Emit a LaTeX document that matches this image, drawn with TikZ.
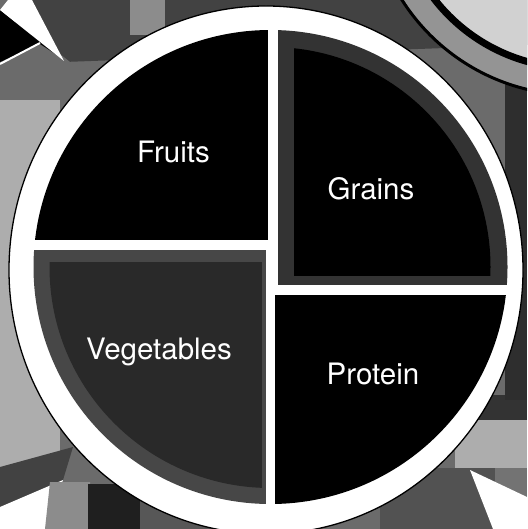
\documentclass[tikz,border=0pt]{standalone}
\usepackage{fontspec}
\setmainfont{TeX Gyre Heros}
\tikzset{
  label/.style={text=white, font=\fontsize{29.5}{30}\selectfont, inner sep=0pt, anchor=base},
  ring/.style={fill=white, draw=black, line width=1.3pt},
}
\colorlet{bgmid}{black!58}
\colorlet{bgdark}{black!74}
\colorlet{bglight}{black!32}
\begin{document}
\begin{tikzpicture}[x=1pt, y=-1pt]
\useasboundingbox (0,0) rectangle (527,529);
\clip (0,0) rectangle (527,529);
% ---- tablecloth background ----
\fill[bgmid] (0,0) rectangle (527,529);
\fill[bgdark] (30,0) -- (527,0) -- (527,45) -- (64,62) -- cycle;
\fill[black!45] (130,0) rectangle (165,35);
\fill[black!58] (0,62) -- (45,42) -- (80,70) -- (60,105) -- (0,105) -- cycle;
\fill[bglight] (0,100) rectangle (60,470);
\fill[black] (0,10) -- (60,57) -- (40,44) -- (0,62) -- cycle;
\draw[white, line width=2pt] (0,64) -- (40,43);
\fill[white] (0,10) -- (8,0) -- (32,0) -- (64,61) -- cycle;
% bottom left
\fill[bgdark] (0,467) -- (73,447) -- (63,480) -- (0,507) -- cycle;
\fill[white] (0,507) -- (63,480) -- (45,529) -- (0,529) -- cycle;
\fill[black!45] (50,482) -- (90,482) -- (90,529) -- (45,529) -- cycle;
\fill[black!88] (88,484) rectangle (140,529);
\fill[black!66] (140,495) rectangle (230,529);
% bottom right
\fill[black!80] (470,395) rectangle (527,422);
\fill[bglight] (455,420) rectangle (527,468);
\fill[black!68] (380,468) rectangle (527,529);
\fill[black!55] (495,468) rectangle (527,497);
\fill[white] (470,470) -- (493,529) -- (527,529) -- (527,497) -- cycle;
% right edge
\fill[black!82] (505,60) rectangle (527,400);
% top right: cup and saucer
\fill[black!42] (575,-110) circle (205pt);
\draw[black, line width=3pt] (575,-110) circle (205pt);
\fill[black!18] (575,-110) circle (175pt);
\draw[black, line width=7pt] (575,-110) circle (178pt);
% ---- plate ----
\path[ring] (266,270) ellipse [x radius=257pt, y radius=264pt];
\begin{scope}
  \clip (270.5,267) circle (237pt);
  % Fruits
  \fill[black] (0,0) rectangle (268,240);
  % Grains: speckled rim, black core
  \fill[black!80] (278,0) rectangle (527,285);
  \begin{scope}
    \clip (270.5,267) circle (220pt);
    \fill[black] (294,46) rectangle (527,276);
  \end{scope}
  % Vegetables: speckled, rim lighter
  \fill[black!72] (0,250) rectangle (266,529);
  \begin{scope}
    \clip (270.5,267) circle (221pt);
    \fill[black!84] (44,262) rectangle (262,529);
  \end{scope}
  % Protein
  \fill[black] (275,295) rectangle (527,529);
\end{scope}
% ---- labels ----
\node[label] (fruits) at (173.5,163) {Fruits};
\node[label] (grains) at (371,200) {Grains};
\node[label] (vegetables) at (159,359) {Vegetables};
\node[label] (protein) at (373,384) {Protein};
\end{tikzpicture}
\end{document}
